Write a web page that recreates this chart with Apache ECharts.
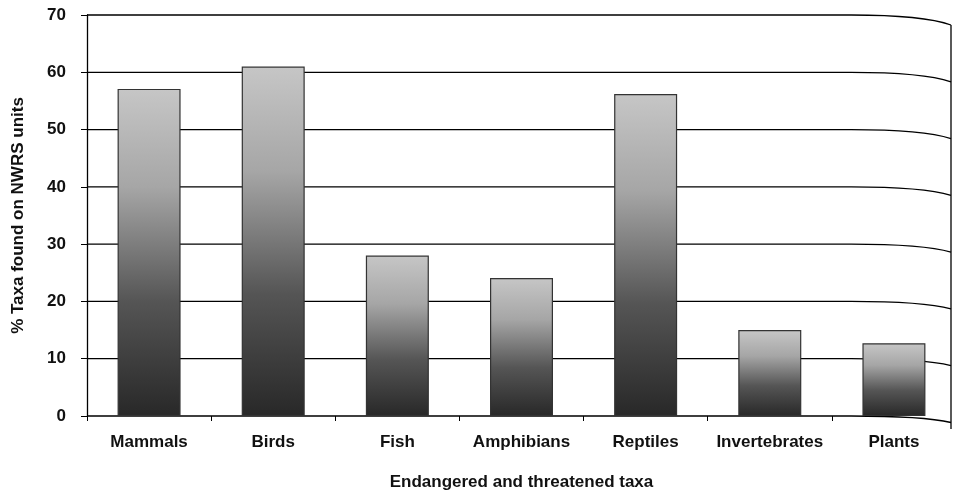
<!DOCTYPE html>
<html>
<head>
<meta charset="utf-8">
<script src="https://cdn.jsdelivr.net/npm/echarts@6/dist/echarts.min.js"></script>
<style>
  html, body { margin: 0; padding: 0; background: #fff; }
  #chart { width: 956px; height: 496px; }
</style>
</head>
<body>
<div id="chart"></div>
<script>
    // data
    var taxa = ['Mammals', 'Birds', 'Fish', 'Amphibians', 'Reptiles', 'Invertebrates', 'Plants'];
    var pctFound = [57.1, 61, 28, 24.1, 56.2, 15, 12.7];
    var yTicks = [0, 10, 20, 30, 40, 50, 60, 70];

    var fontName = "'Liberation Sans', Arial, sans-serif";
    var m_chart = echarts.init(document.getElementById('chart'));

    // gridlines that bend down at the back wall, like the old 3D excel look
    var wallLines = function (params, api) {
        var cs = params.coordSys;
        var v = api.value(1);
        var y = api.coord([0, v])[1];
        var x0 = cs.x;
        var x1 = cs.x + cs.width - 5;
        var drop = 6.5 + v / 70 * 3.5;
        var kids = [{
            type: 'path',
            shape: {
                pathData: 'M' + x0 + ' ' + y + ' L' + (x1 - 100) + ' ' + y +
                    ' C' + (x1 - 45) + ' ' + y + ' ' + (x1 - 18) + ' ' + (y + drop * 0.35) +
                    ' ' + x1 + ' ' + (y + drop)
            },
            style: { fill: null, stroke: '#000', lineWidth: v === 0 ? 1.6 : 1.3 }
        }];
        if (v === 70) {
            var yb = api.coord([0, 0])[1];
            kids.push({
                type: 'line',
                shape: { x1: x1, y1: y + drop, x2: x1, y2: yb + 13 },
                style: { stroke: '#000', lineWidth: 1.3 }
            });
        }
        return { type: 'group', children: kids };
    };

    var option = {
        animation: false,
        backgroundColor: '#fff',
        grid: { left: 87, right: 0, top: 15, bottom: 80 },
        xAxis: {
            type: 'category',
            data: taxa,
            boundaryGap: true,
            axisLine: { show: false },
            axisTick: { show: true, length: 5, lineStyle: { color: '#000' } },
            axisLabel: { interval: 0, color: '#111', fontFamily: fontName, fontWeight: 'bold', fontSize: 17, margin: 18 },
            name: 'Endangered and threatened taxa',
            nameLocation: 'middle',
            nameGap: 58,
            nameTextStyle: { color: '#111', fontFamily: fontName, fontWeight: 'bold', fontSize: 17 }
        },
        yAxis: {
            type: 'value',
            min: 0,
            max: 70,
            interval: 10,
            axisLine: { show: true, lineStyle: { color: '#000', width: 1.3 } },
            axisTick: { show: true, length: 6, lineStyle: { color: '#000' } },
            splitLine: { show: false },
            axisLabel: { color: '#111', fontFamily: fontName, fontWeight: 'bold', fontSize: 17, margin: 21 },
            name: '% Taxa found on NWRS units',
            nameLocation: 'middle',
            nameGap: 60,
            nameTextStyle: { color: '#111', fontFamily: fontName, fontWeight: 'bold', fontSize: 17 }
        },
        series: [
            {
                type: 'custom',
                silent: true,
                z: 1,
                renderItem: wallLines,
                data: yTicks.map(function (t) { return [0, t]; })
            },
            {
                type: 'bar',
                z: 3,
                barWidth: 63,
                data: pctFound,
                itemStyle: {
                    borderColor: '#333',
                    borderWidth: 1.2,
                    color: new echarts.graphic.LinearGradient(0, 0, 0, 1, [
                        { offset: 0, color: '#c6c6c6' },
                        { offset: 0.3, color: '#a6a6a6' },
                        { offset: 0.65, color: '#555' },
                        { offset: 1, color: '#282828' }
                    ])
                }
            }
        ]
    };

    m_chart.setOption(option);
</script>
</body>
</html>
